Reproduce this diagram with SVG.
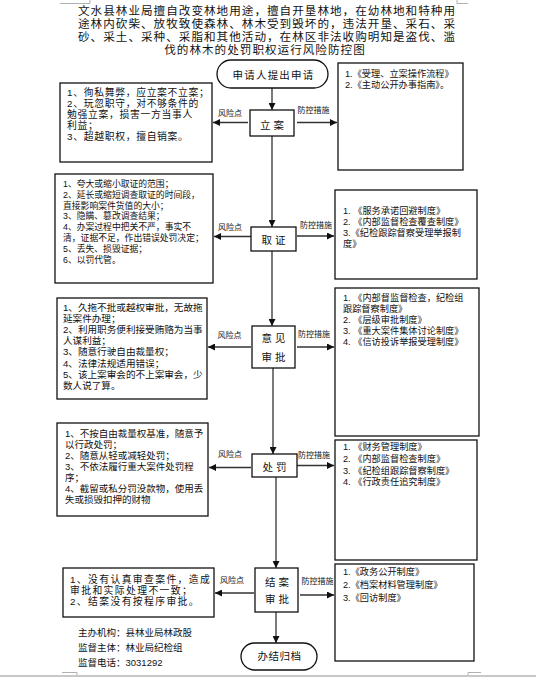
<svg xmlns="http://www.w3.org/2000/svg" width="536" height="677" viewBox="0 0 536 677">
<defs>
<marker id="ah" viewBox="0 0 8 8" refX="8" refY="4" markerWidth="7" markerHeight="7" markerUnits="userSpaceOnUse" orient="auto">
<path d="M0,0 L8,4 L0,8 z" fill="#111"/>
</marker>
</defs>
<style>
text{font-family:"Liberation Sans","Noto Sans CJK SC",sans-serif;fill:#111;}
.box{fill:#fff;stroke:#111;stroke-width:1.3;}
.ln{stroke:#333;stroke-width:1.3;fill:none;marker-end:url(#ah);}
.lbl{font-size:8px;text-anchor:middle;}
.node{font-size:10.5px;text-anchor:middle;letter-spacing:2px;}
.t{font-size:9.8px;}
.page{stroke:#b0b0b0;stroke-width:1;fill:none;}
</style>
<rect width="536" height="677" fill="#fff"/>
<g id="page-marks">
<path class="page" d="M60,3.5 H90 V0 M457,0 V3.5 H468"/>
<path class="page" d="M62,672.5 H77 V677 M468,677 V672.5 H481"/>
<rect x="0" y="675" width="536" height="2" fill="#c8c8c8"/>
</g>
<g id="title" font-size="11.6">
<text x="78" y="15" textLength="377" lengthAdjust="spacing">文水县林业局擅自改变林地用途，擅自开垦林地，在幼林地和特种用</text>
<text x="78" y="28" textLength="377" lengthAdjust="spacing">途林内砍柴、放牧致使森林、林木受到毁坏的，违法开垦、采石、采</text>
<text x="78" y="41" textLength="377" lengthAdjust="spacing">砂、采土、采种、采脂和其他活动，在林区非法收购明知是盗伐、滥</text>
<text x="265" y="54" text-anchor="middle" letter-spacing="1">伐的林木的处罚职权运行风险防控图</text>
</g>
<g id="connectors">
<line class="ln" x1="272" y1="88" x2="272" y2="110"/>
<line class="ln" x1="272" y1="136" x2="272" y2="227"/>
<line class="ln" x1="272" y1="251" x2="272" y2="326"/>
<line class="ln" x1="273" y1="368" x2="273" y2="454"/>
<line class="ln" x1="276" y1="477" x2="276" y2="568"/>
<line class="ln" x1="276" y1="612" x2="276" y2="643"/>
<line class="ln" x1="248" y1="122.5" x2="213" y2="122.5"/>
<line class="ln" x1="297" y1="122.5" x2="337" y2="122.5"/>
<line class="ln" x1="251" y1="236.5" x2="214" y2="236.5"/>
<line class="ln" x1="297" y1="236" x2="334" y2="236"/>
<line class="ln" x1="251" y1="347" x2="208" y2="347"/>
<line class="ln" x1="297" y1="347" x2="334" y2="347"/>
<line class="ln" x1="251" y1="467.5" x2="209" y2="467.5"/>
<line class="ln" x1="297" y1="465.5" x2="334" y2="465.5"/>
<line class="ln" x1="254" y1="593" x2="215" y2="593"/>
<line class="ln" x1="300" y1="595" x2="334" y2="595"/>
<text class="lbl" x="230" y="115.5">风险点</text>
<text class="lbl" x="313.5" y="113">防控措施</text>
<text class="lbl" x="230" y="229.5">风险点</text>
<text class="lbl" x="316" y="228">防控措施</text>
<text class="lbl" x="229.5" y="337.5">风险点</text>
<text class="lbl" x="314" y="337">防控措施</text>
<text class="lbl" x="230" y="457">风险点</text>
<text class="lbl" x="314" y="458">防控措施</text>
<text class="lbl" x="232" y="583">风险点</text>
<text class="lbl" x="317.5" y="583.5">防控措施</text>
</g>
<g id="start">
<rect class="box" x="217" y="60" width="111" height="28" rx="14"/>
<text class="node" x="273.5" y="79" style="letter-spacing:1.2px">申请人提出申请</text>
</g>
<g id="node-lian">
<rect class="box" x="250" y="110" width="44" height="26"/>
<text class="node" x="273.5" y="129" style="letter-spacing:3px">立案</text>
</g>
<g id="node-quzheng">
<rect class="box" x="251" y="227" width="45" height="24"/>
<text class="node" x="275" y="244" style="letter-spacing:3px">取证</text>
</g>
<g id="node-yijian">
<rect class="box" x="252" y="326" width="43" height="42"/>
<text class="node" x="275" y="342" style="letter-spacing:3px">意见</text>
<text class="node" x="275" y="361" style="letter-spacing:3px">审批</text>
</g>
<g id="node-chufa">
<rect class="box" x="252" y="454" width="45" height="23"/>
<text class="node" x="276" y="471" style="letter-spacing:3px">处罚</text>
</g>
<g id="node-jiean">
<rect class="box" x="255" y="568" width="43" height="44"/>
<text class="node" x="278.5" y="586" style="letter-spacing:3px">结案</text>
<text class="node" x="278.5" y="603" style="letter-spacing:3px">审批</text>
</g>
<g id="end">
<rect class="box" x="241" y="643" width="76" height="27" rx="13.5"/>
<text class="node" x="279.5" y="660" style="letter-spacing:0.5px">办结归档</text>
</g>
<g id="risk-1">
<rect class="box" x="60" y="83" width="152" height="79"/>
<g class="t" style="letter-spacing:0.7px">
<text x="67" y="96">1、徇私舞弊，应立案不立案；</text>
<text x="67" y="107">2、玩忽职守，对不够条件的</text>
<text x="67" y="118">勉强立案，损害一方当事人</text>
<text x="67" y="129.2">利益；</text>
<text x="67" y="140.4">3、超越职权，擅自销案。</text>
</g>
</g>
<g id="risk-2">
<rect class="box" x="55" y="174" width="158" height="109"/>
<g style="font-size:8.8px">
<text x="63" y="186.7">1、夸大或缩小取证的范围；</text>
<text x="63" y="197.6">2、延长或缩短调查取证的时间段，</text>
<text x="63" y="208.5">直接影响案件货值的大小；</text>
<text x="63" y="219.4">3、隐瞒、篡改调查结果；</text>
<text x="63" y="230.3">4、办案过程中把关不严，事实不</text>
<text x="63" y="241.2">清，证据不足，作出错误处罚决定；</text>
<text x="63" y="252.1">5、丢失、损毁证据；</text>
<text x="63" y="263">6、以罚代管。</text>
</g>
</g>
<g id="risk-3">
<rect class="box" x="57" y="298" width="150" height="101"/>
<g style="font-size:9.6px">
<text x="63" y="310.5">1、久拖不批或越权审批，无故拖</text>
<text x="63" y="321.7">延案件办理；</text>
<text x="63" y="332.9">2、利用职务便利接受贿赂为当事</text>
<text x="63" y="344.1">人谋利益；</text>
<text x="63" y="355.3">3、随意行驶自由裁量权；</text>
<text x="63" y="366.5">4、法律法规适用错误；</text>
<text x="63" y="377.7">5、该上案审会的不上案审会，少</text>
<text x="63" y="388.9">数人说了算。</text>
</g>
</g>
<g id="risk-4">
<rect class="box" x="57" y="423" width="151" height="93"/>
<g style="font-size:9.5px">
<text x="65" y="437">1、不按自由裁量权基准，随意予</text>
<text x="65" y="448">以行政处罚；</text>
<text x="65" y="459">2、随意从轻或减轻处罚；</text>
<text x="65" y="470">3、不依法履行重大案件处罚程</text>
<text x="65" y="481">序；</text>
<text x="65" y="492">4、截留或私分罚没款物，使用丢</text>
<text x="65" y="503">失或损毁扣押的财物</text>
</g>
</g>
<g id="risk-5">
<rect class="box" x="63" y="568" width="151" height="49"/>
<g style="font-size:9.8px;letter-spacing:1.4px">
<text x="70" y="582.5">1、没有认真审查案件，造成</text>
<text x="70" y="593.5">审批和实际处理不一致；</text>
<text x="70" y="604.5">2、结案没有按程序审批。</text>
</g>
</g>
<g id="measure-1">
<rect class="box" x="338" y="63" width="125" height="107"/>
<g style="font-size:9.2px">
<text x="345" y="77">1.《受理、立案操作流程》</text>
<text x="345" y="88">2.《主动公开办事指南》。</text>
</g>
</g>
<g id="measure-2">
<rect class="box" x="335" y="190" width="142" height="89"/>
<g style="font-size:9.2px">
<text x="343" y="214.3">1. 《服务承诺回避制度》</text>
<text x="343" y="225.3">2. 《内部监督检查覆查制度》</text>
<text x="343" y="236.3">3.《纪检跟踪督察受理举报制</text>
<text x="343" y="247.3">度》</text>
</g>
</g>
<g id="measure-3">
<rect class="box" x="335" y="288" width="144" height="148"/>
<g style="font-size:9.2px">
<text x="343" y="301.3">1. 《内部督监督检查，纪检组</text>
<text x="343" y="312.1">跟踪督察制度》</text>
<text x="343" y="322.9">2. 《层级审批制度》</text>
<text x="343" y="333.7">3. 《重大案件集体讨论制度》</text>
<text x="343" y="344.5">4. 《信访投诉举报受理制度》</text>
</g>
</g>
<g id="measure-4">
<rect class="box" x="335" y="440" width="142" height="120"/>
<g style="font-size:9.2px">
<text x="343" y="450.3">1. 《财务管理制度》</text>
<text x="343" y="462">2. 《内部监督检查制度》</text>
<text x="343" y="473.7">3. 《纪检组跟踪督察制度》</text>
<text x="343" y="485.4">4. 《行政责任追究制度》</text>
</g>
</g>
<g id="measure-5">
<rect class="box" x="335" y="564" width="139" height="97"/>
<g style="font-size:9.2px">
<text x="343" y="575.3">1.《政务公开制度》</text>
<text x="343" y="588.3">2.《档案材料管理制度》</text>
<text x="343" y="601.3">3.《回访制度》</text>
</g>
</g>
<g id="footer" style="font-size:9.5px">
<text x="78" y="635.5">主办机构：县林业局林政股</text>
<text x="78" y="650.5">监督主体：林业局纪检组</text>
<text x="78" y="665.5">监督电话：3031292</text>
</g>
</svg>
